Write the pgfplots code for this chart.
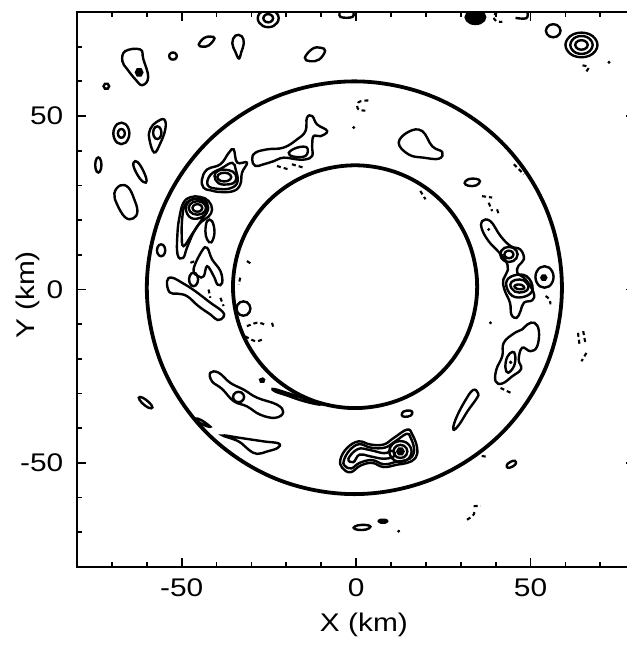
\documentclass[border=0pt]{standalone}
\usepackage{fontspec}
\setmainfont{Liberation Sans}[FakeStretch=1.17]
\usepackage{pgfplots}
\pgfplotsset{compat=1.18}
\pgfplotsset{
 ct/.style={black, line width=2.4pt, smooth cycle, tension=0.7},
 cto/.style={black, line width=2.4pt, smooth, tension=0.7},
 dsh/.style={black, line width=2.1pt, smooth, tension=0.7, dash pattern=on 4pt off 3pt},
 circ/.style={black, line width=3.8pt, smooth cycle, tension=0.6},
}
\begin{document}
\begin{tikzpicture}
\begin{axis}[
 scale only axis, width=557.8pt, height=554.6pt,
 xmin=-80, xmax=80, ymin=-80, ymax=80,
 xtick={-50,0,50}, xticklabels={-50,0,50},
 ytick={-50,0,50}, yticklabels={-50,0,50},
 minor xtick={-70,-60,-40,-30,-20,-10,10,20,30,40,60,70},
 minor ytick={-70,-60,-40,-30,-20,-10,10,20,30,40,60,70},
 tick align=inside,
 major tick length=9pt, minor tick length=5pt,
 every tick/.style={black, line width=1.8pt},
 axis line style={line width=2pt},
 tick label style={font=\fontsize{25.5}{30}\selectfont},
 xticklabel style={anchor=base, yshift=-30pt},
 yticklabel style={anchor=east, inner sep=0pt, xshift=-13.5pt},
 xlabel={X (km)}, ylabel={Y (km)},
 label style={font=\fontsize{25.5}{30}\selectfont},
 xlabel style={at={(axis description cs:0.514,0)}, anchor=base, yshift=-65pt},
 ylabel style={at={(axis description cs:0,0.49)}, anchor=south, yshift=34pt},
]
% ---- circles
\addplot[circ] coordinates {(59.0,0.5) (54.47,23.27) (41.57,42.57) (22.27,55.47) (-0.5,60.0) (-23.27,55.47) (-42.57,42.57) (-55.47,23.27) (-60.0,0.5) (-55.47,-22.27) (-42.57,-41.57) (-23.27,-54.47) (-0.5,-59.0) (22.27,-54.47) (41.57,-41.57) (54.47,-22.27)};
\addplot[circ] coordinates {(34.7,0.8) (32.04,14.19) (24.45,25.55) (13.09,33.14) (-0.3,35.8) (-13.69,33.14) (-25.05,25.55) (-32.64,14.19) (-35.3,0.8) (-32.64,-12.59) (-25.05,-23.95) (-13.69,-31.54) (-0.3,-34.2) (13.09,-31.54) (24.45,-23.95) (32.04,-12.59)};
% ---- outside, upper left
\addplot[ct] coordinates {(-22.2,78.2) (-23.7,80.45) (-26.7,80.45) (-28.2,78.2) (-26.7,75.95) (-23.7,75.95)};
\addplot[ct] coordinates {(-23.8,78.2) (-24.5,79.24) (-25.9,79.24) (-26.6,78.2) (-25.9,77.16) (-24.5,77.16)};
\addplot[ct] coordinates {(-40.6,72.4) (-41.8,72.9) (-43.6,72.5) (-45.1,70.6) (-44.0,70.0) (-42.2,70.4)};
\addplot[ct] coordinates {(-32.2,71.0) (-32.8,73.0) (-34.6,73.2) (-35.5,71.0) (-34.6,68.5) (-33.6,66.6) (-32.9,68.5)};
\addplot[ct] coordinates {(-8.9,68.8) (-10.2,69.7) (-12.5,69.4) (-14.7,66.8) (-13.2,65.8) (-10.6,66.3)};
\addplot[ct] coordinates {(-67.0,65.8) (-66.2,68.7) (-61.9,69.2) (-61.0,66.4) (-59.6,61.2) (-61.3,58.9) (-63.3,60.6) (-65.6,63.5)};
\addplot[ct, fill=black] coordinates {(-61.3,62.6) (-61.75,63.5) (-62.65,63.5) (-63.1,62.6) (-62.65,61.7) (-61.75,61.7)};
\addplot[ct] coordinates {(-70.8,58.6) (-71.2,59.3) (-72.0,59.3) (-72.4,58.6) (-72.0,57.9) (-71.2,57.9)};
\addplot[ct] coordinates {(-51.4,67.3) (-51.95,68.2) (-53.05,68.2) (-53.6,67.3) (-53.05,66.4) (-51.95,66.4)};
\addplot[ct] coordinates {(-65.0,45.0) (-66.15,47.7) (-68.45,47.7) (-69.6,45.0) (-68.45,42.3) (-66.15,42.3)};
\addplot[ct] coordinates {(-66.3,45) (-66.8,46.1) (-67.8,46.1) (-68.3,45) (-67.8,43.9) (-66.8,43.9)};
\addplot[ct] coordinates {(-55.0,49.0) (-54.7,46.2) (-56.2,42) (-57.9,39.5) (-59.3,43.5) (-59.0,46.3) (-57.2,48.3)};
\addplot[ct] coordinates {(-55.8,45.2) (-56.4,46.8) (-57.6,46.8) (-58.2,45.2) (-57.6,43.6) (-56.4,43.6)};
\addplot[ct] coordinates {(-73.0,35.9) (-73.45,37.8) (-74.35,37.8) (-74.8,35.9) (-74.35,34.0) (-73.45,34.0)};
\addplot[ct] coordinates {(-63.3,37.0) (-61.9,35.8) (-60.3,32.5) (-60.3,30.8) (-62.0,32.0) (-63.8,35.5)};
\addplot[ct] coordinates {(-67.6,30.0) (-65.3,29.4) (-63.6,26.0) (-62.7,22.5) (-63.9,20.5) (-66.2,20.8) (-68.5,24.5) (-69.3,27.7)};
\addplot[ct] coordinates {(-54.7,11.3) (-55.3,12.8) (-56.5,12.8) (-57.1,11.3) (-56.5,9.8) (-55.3,9.8)};
\addplot[ct] coordinates {(-62.3,-31.2) (-61.2,-31.2) (-59.3,-32.6) (-58.4,-34.0) (-59.5,-34.1) (-61.4,-32.7)};
% ---- top edge
\addplot[cto] coordinates {(-4.5,80.5) (-4.5,78.6) (-1,78.6) (-1,80.5)};
\addplot[ct, fill=black] coordinates {(37.0,78.5) (35.6,80.2) (32.8,80.2) (31.4,78.5) (32.8,76.8) (35.6,76.8)};
\addplot[dsh] coordinates {(40.4,80) (39.4,78.6) (40.3,77.3) (41.9,77.2)};
\addplot[cto] coordinates {(45.7,78.3) (48.8,78.2) (49.1,80)};
\addplot[ct] coordinates {(58.6,74.6) (57.55,76.25) (55.45,76.25) (54.4,74.6) (55.45,72.95) (57.55,72.95)};
\addplot[ct] coordinates {(69.2,70.5) (66.9,73.6) (62.3,73.6) (60.0,70.5) (62.3,67.4) (66.9,67.4)};
\addplot[ct] coordinates {(67.8,70.5) (66.2,72.75) (63.0,72.75) (61.4,70.5) (63.0,68.25) (66.2,68.25)};
\addplot[ct] coordinates {(66.4,70.5) (65.5,71.7) (63.7,71.7) (62.8,70.5) (63.7,69.3) (65.5,69.3)};
\addplot[dsh] coordinates {(64.9,64.6) (66.6,64.1) (66.0,62.9)};
\addplot[only marks, mark=*, mark size=1.3pt] coordinates {(72.5,65.5) (-0.7,46.7) (38.0,17.3) (38.5,-9.6) (12.2,-69.7)};
% ---- annulus, upper left
\addplot[ct] coordinates {(-29.8,37.5) (-28.9,39.4) (-25.5,40.4) (-20.8,40.9) (-16.9,43.3) (-14.5,45.7) (-14.1,49.5) (-12.6,50.0) (-11.2,47.6) (-8.3,45.7) (-10.2,44.2) (-12.2,44.2) (-12.6,41.3) (-12.6,38.5) (-14.5,37.5) (-16.9,37.5) (-20.8,38.0) (-23.6,37.0) (-26.5,36.1) (-28.9,35.6)};
\addplot[ct] coordinates {(-19.3,39.4) (-16.9,40.9) (-14.1,40.9) (-14.5,38.5) (-17.9,38.3)};
\addplot[dsh] coordinates {(-22.7,35.6) (-19.3,34.6)};
\addplot[dsh] coordinates {(-18.4,36.1) (-15.0,35.1)};
\addplot[ct] coordinates {(-43.7,29.3) (-44.2,31.7) (-42.7,34.6) (-38.9,36.1) (-36.5,39.4) (-35.1,40.4) (-34.1,36.6) (-31.3,36.6) (-32.7,33.7) (-33.2,30.3) (-35.1,28.4) (-38.9,28.1) (-41.8,28.6)};
\addplot[ct] coordinates {(-42.5,30.0) (-41.8,33.0) (-38.5,35.0) (-35.5,36.5) (-34.5,34.5) (-34.0,31.0) (-36.0,29.2) (-39.5,29.0)};
\addplot[ct] coordinates {(-40.6,32.7) (-39.4,34.3) (-36.5,34.4) (-34.6,33.2) (-34.6,31.2) (-36.5,30.3) (-39.4,30.6)};
\addplot[ct] coordinates {(-35.8,32.4) (-36.8,33.5) (-38.8,33.5) (-39.8,32.4) (-38.8,31.3) (-36.8,31.3)};
\addplot[ct] coordinates {(-49.5,25.0) (-47.5,26.6) (-44.7,26.7) (-42.3,25.5) (-41.3,23.1) (-42.3,21.0) (-44.7,19.2) (-46.6,16.4) (-48.5,12.0) (-49.6,9.1) (-51.2,10.1) (-51.2,16.4) (-50.6,21.1)};
\addplot[ct] coordinates {(-49,24.5) (-46.5,26) (-43.5,25.3) (-42.5,23) (-44,20.5) (-47,16) (-49.5,12.5) (-50,16) (-49.8,21)};
\addplot[ct] coordinates {(-42.4,23.6) (-43.9,25.9) (-47.2,25.9) (-48.8,23.4) (-47.3,20.6) (-44.0,21.0)};
\addplot[ct] coordinates {(-43,23.5) (-44.25,25.2) (-46.75,25.2) (-48,23.5) (-46.75,21.8) (-44.25,21.8)};
\addplot[ct] coordinates {(-44.1,23.5) (-44.8,24.45) (-46.2,24.45) (-46.9,23.5) (-46.2,22.55) (-44.8,22.55)};
\addplot[ct] coordinates {(-42.7,19.7) (-41.3,19.7) (-40.6,16.4) (-41.5,13.6) (-42.7,14.4) (-43.2,16.8)};
% ---- annulus, left
\addplot[ct] coordinates {(-54.2,2.4) (-52.8,3.4) (-49.5,1.7) (-46.1,-0.5) (-41.8,-3.8) (-38.4,-6.3) (-38.0,-7.9) (-39.7,-8.8) (-41.8,-7.2) (-45.2,-4.8) (-48.5,-1.9) (-51.3,-1.2) (-53.5,-0.8)};
\addplot[ct] coordinates {(-45.3,2.9) (-45.95,4.6) (-47.25,4.6) (-47.9,2.9) (-47.25,1.2) (-45.95,1.2)};
\addplot[ct] coordinates {(-46.6,5.8) (-44.2,11.1) (-42.7,12.0) (-41.3,8.7) (-38.9,5.3) (-38.4,1.9) (-39.7,1.4) (-40.8,3.8) (-42.7,6.7) (-43.7,3.8) (-45.2,3.8)};
\addplot[dsh] coordinates {(-42.3,0) (-41.8,-2.4)};
\addplot[dsh] coordinates {(-38.9,-2.4) (-38.0,-4.8)};
\addplot[dsh] coordinates {(-47.5,7.7) (-46.1,8.2)};
\addplot[dsh] coordinates {(-31.3,8.2) (-29.8,7.2)};
\addplot[dsh] coordinates {(-33.2,3.4) (-33.7,1.4)};
\addplot[ct] coordinates {(-30.3,-5.5) (-31.3,-3.7) (-33.3,-3.7) (-34.3,-5.5) (-33.3,-7.3) (-31.3,-7.3)};
\addplot[dsh] coordinates {(-31.3,-10.6) (-28.4,-9.6) (-26.3,-10.1)};
\addplot[dsh] coordinates {(-24.1,-9.6) (-23.6,-11.5)};
\addplot[dsh] coordinates {(-31.8,-13.5) (-28.9,-14.9) (-27.0,-14.4)};
% ---- annulus, lower left
\addplot[ct] coordinates {(-41.8,-24.0) (-39.4,-24.0) (-36.1,-26.9) (-32.2,-28.9) (-28.4,-31.2) (-22.7,-33.2) (-20.9,-35.4) (-23.2,-37.0) (-27.5,-36.1) (-31.3,-33.7) (-35.1,-32.2) (-38.4,-28.7) (-41.3,-26.5)};
\addplot[ct] coordinates {(-32.1,-31) (-32.9,-29.7) (-34.5,-29.7) (-35.3,-31) (-34.5,-32.3) (-32.9,-32.3)};
\addplot[ct] coordinates {(-23.5,-28.7) (-18,-30.4) (-12,-32.4) (-10.5,-33.2) (-15,-32.2) (-20,-30.5) (-23.2,-29.4)};
\addplot[ct, fill=black] coordinates {(-26.4,-26.0) (-26.8,-25.7) (-27.5,-26.0) (-27.3,-26.6) (-26.6,-26.6)};
\addplot[ct] coordinates {(-38.2,-42.1) (-33.2,-42.8) (-26.5,-43.8) (-22.2,-44.4) (-22.5,-45.7) (-25.5,-46.7) (-28.4,-47.4) (-30.8,-46.2) (-33.7,-43.8)};
\addplot[ct] coordinates {(-46.0,-37.2) (-44.5,-37.6) (-42.2,-39.2) (-42.0,-39.6) (-43.6,-39.1) (-45.6,-37.9)};
% ---- bottom
\addplot[ct] coordinates {(-4.5,-49.0) (-2.6,-45.7) (0.7,-43.8) (4.1,-44.7) (7.9,-44.7) (10.8,-42.8) (14.6,-40.4) (16.1,-41.8) (17.5,-45.7) (17.0,-48.6) (14.6,-50.0) (11.8,-50.5) (7.9,-51.2) (4.6,-50.0) (1.2,-50.8) (-1.6,-52.7) (-4.0,-51.4)};
\addplot[ct] coordinates {(-3.5,-49.2) (-1.8,-46.3) (0.9,-44.6) (4.2,-45.6) (8.2,-45.6) (11.2,-43.8) (14.5,-41.6) (15.6,-42.7) (16.6,-45.8) (16.1,-48.1) (14.3,-49.2) (11.5,-49.7) (8,-50.4) (4.6,-49.2) (1,-50) (-1.4,-51.6) (-3.3,-50.8)};
\addplot[ct] coordinates {(-2.2,-48.8) (0.5,-46.0) (4,-46.3) (8,-47.2) (10.5,-46.5) (11,-48) (8,-48.8) (4,-48.1) (1,-47.6) (-0.8,-49.8)};
\addplot[ct] coordinates {(15.9,-46.7) (14.3,-44.1) (11.1,-44.1) (9.5,-46.7) (11.1,-49.3) (14.3,-49.3)};
\addplot[ct] coordinates {(14.7,-46.7) (13.7,-45.05) (11.7,-45.05) (10.7,-46.7) (11.7,-48.35) (13.7,-48.35)};
\addplot[ct, fill=black] coordinates {(13.6,-46.7) (13.15,-45.9) (12.25,-45.9) (11.8,-46.7) (12.25,-47.5) (13.15,-47.5)};
\addplot[ct] coordinates {(16.1,-35.4) (15.3,-34.9) (13.6,-35.2) (13.1,-36.2) (13.9,-36.7) (15.6,-36.4)};
\addplot[ct] coordinates {(35.0,-30.0) (33.5,-29.0) (31.0,-32.5) (28.5,-37.5) (27.9,-40.4) (29.5,-39.0) (32.0,-35) (34.5,-31.5)};
\addplot[ct] coordinates {(45.8,-49.7) (45.0,-49.4) (43.5,-50.2) (43.2,-51.1) (44.0,-51.4) (45.5,-50.6)};
\addplot[dsh] coordinates {(33.7,-62.5) (35.7,-62.3)};
\addplot[dsh] coordinates {(31.8,-66.4) (33.7,-64.9) (33.9,-63.6)};
\addplot[ct] coordinates {(4.1,-68.4) (2.9,-67.9) (0.5,-68.0) (-0.7,-68.7) (0.5,-69.3) (2.9,-69.2)};
\addplot[ct, fill=black] coordinates {(8.9,-66.8) (8.3,-66.4) (7.1,-66.4) (6.5,-66.8) (7.1,-67.2) (8.3,-67.2)};
\addplot[dsh] coordinates {(36.0,-48.0) (37.2,-48.2)};
% ---- right
\addplot[ct] coordinates {(35.5,31.2) (34.4,31.9) (32.2,31.8) (31.1,30.7) (32.2,29.9) (34.4,30.0)};
\addplot[dsh] coordinates {(36.1,26.9) (39.0,26.5)};
\addplot[dsh] coordinates {(38.0,25.0) (39.0,22.6)};
\addplot[dsh] coordinates {(40.4,23.1) (40.9,21.6)};
\addplot[ct] coordinates {(36.1,19.7) (38.5,19.7) (41.4,15.4) (44.3,12.5) (47.1,11.5) (48.1,8.7) (46.6,6.9) (46.2,4.8) (48.6,2.9) (50.9,-1.0) (50.5,-3.1) (48.1,-3.8) (47.1,-6.3) (46.0,-8.2) (44.5,-7.2) (44.1,-3.8) (42.5,0) (42.2,2.9) (43.5,5.6) (42.8,8.5) (40.6,11.1) (38.0,13.9) (36.1,17.3)};
\addplot[ct] coordinates {(46.3,10.1) (45.05,12.0) (42.55,12.0) (41.3,10.1) (42.55,8.2) (45.05,8.2)};
\addplot[ct] coordinates {(45.1,10.1) (44.45,11.05) (43.15,11.05) (42.5,10.1) (43.15,9.15) (44.45,9.15)};
\addplot[ct] coordinates {(50.6,0.2) (48.9,3.8) (45.1,4.0) (43.0,1.8) (44.7,-1.8) (48.5,-2.0)};
\addplot[ct] coordinates {(49.4,0.6) (48.1,2.6) (45.5,2.7) (44.2,1.4) (45.5,-0.6) (48.1,-0.7)};
\addplot[ct] coordinates {(48.2,0.5) (47.5,1.3) (46.1,1.4) (45.4,0.9) (46.1,0.2) (47.5,0.1)};
\addplot[ct] coordinates {(56.6,3.6) (55.3,6.3) (52.7,6.3) (51.4,3.6) (52.7,0.9) (55.3,0.9)};
\addplot[ct, fill=black] coordinates {(54.5,3.4) (54.15,4.0) (53.45,4.0) (53.1,3.4) (53.45,2.8) (54.15,2.8)};
\addplot[dsh] coordinates {(54.3,-1.9) (55.4,-2.8) (55.7,-4.3)};
\addplot[ct] coordinates {(42.3,-15.4) (45.2,-12.7) (47.6,-11.5) (49.1,-10.1) (51.1,-9.6) (52.4,-12.0) (51.9,-16.4) (50.0,-17.8) (47.6,-16.8) (46.6,-20.2) (47.3,-22.9) (44.8,-25.0) (41.9,-27.1) (40.0,-26.5) (40.2,-23.1) (41.9,-19.2)};
\addplot[ct] coordinates {(45.6,-19.0) (44.8,-18.0) (43.3,-19.5) (42.8,-22.5) (43.6,-24.0) (45.3,-22.0)};
\addplot[only marks, mark=*, mark size=1.6pt] coordinates {(44.3,-21.0)};
\addplot[dsh] coordinates {(41.4,-28.4) (44.3,-29.8)};
\addplot[dsh] coordinates {(63.6,-12.5) (64.1,-16.4)};
\addplot[dsh] coordinates {(65.1,-12.0) (65.7,-15.4)};
\addplot[dsh] coordinates {(66.0,-18.3) (64.6,-20.7)};
% ---- top of annulus
\addplot[dsh] coordinates {(3.5,54.5) (0.7,54.0) (0.7,51.9) (3.5,51.6)};
\addplot[ct] coordinates {(12.2,42.3) (15.1,45.5) (18.9,45.7) (21.8,41.3) (24.7,39.6) (23.7,37.7) (19.4,38.0) (15.1,38.9)};
\addplot[dsh] coordinates {(45.2,36.1) (48.1,33.2)};
\addplot[dsh] coordinates {(18.4,28.4) (19.9,26.0)};
\end{axis}
\pgfresetboundingbox
\path ([shift={(-77pt,-80pt)}]current axis.south west) rectangle ([shift={(-8.6pt,12pt)}]current axis.north east);
\end{tikzpicture}
\end{document}
